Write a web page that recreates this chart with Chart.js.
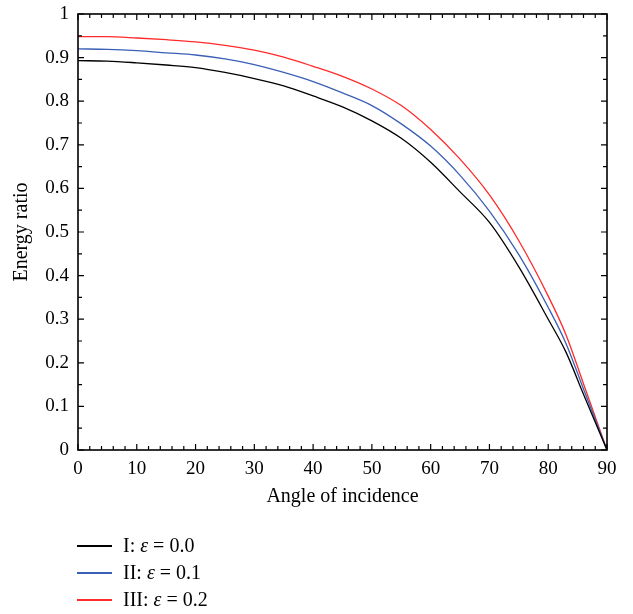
<!DOCTYPE html>
<html>
<head>
<meta charset="utf-8">
<script src="https://cdn.jsdelivr.net/npm/chart.js@4.4.1/dist/chart.umd.min.js"></script>
<style>
body { margin: 0; background: #fff; }
#wrap { position: relative; width: 633px; height: 614px; }
#legend { position: absolute; left: 77px; top: 532px; font-family: "Liberation Serif", serif; font-size: 20px; color: #000; }
.row { height: 27px; display: flex; align-items: center; }
.sw { display: inline-block; width: 35px; height: 2px; margin-right: 11px; }
</style>
</head>
<body>
<div id="wrap">
  <canvas id="myChart" width="633" height="614"></canvas>
  <div id="legend"></div>
</div>
<script>
// angles of incidence (deg)
const angles = [0, 5, 10, 15, 20, 25, 30, 35, 40, 45, 50, 55, 60, 65, 70, 75, 80, 83, 86, 90];

// energy ratio
const ratioI   = [0.893, 0.892, 0.888, 0.883, 0.877, 0.866, 0.852, 0.835, 0.812, 0.787, 0.755, 0.715, 0.660, 0.592, 0.522, 0.420, 0.300, 0.225, 0.128, 0];
const ratioII  = [0.920, 0.919, 0.916, 0.911, 0.906, 0.897, 0.884, 0.866, 0.845, 0.819, 0.790, 0.748, 0.697, 0.630, 0.548, 0.448, 0.327, 0.245, 0.140, 0];
const ratioIII = [0.948, 0.948, 0.945, 0.941, 0.936, 0.928, 0.917, 0.901, 0.880, 0.857, 0.828, 0.790, 0.735, 0.667, 0.585, 0.480, 0.353, 0.265, 0.152, 0];

const seriesNames = ['I: <i>ε</i> = 0.0', 'II: <i>ε</i> = 0.1', 'III: <i>ε</i> = 0.2'];
const seriesColors = ['#000000', '#3a5fb4', '#ff2a2a'];

const toPoints = vals => vals.map((v, i) => ({x: angles[i], y: v}));

// box round the plot plus inward ticks on all four sides
const frameTicks = {
  id: 'frameTicks',
  afterDraw(chart) {
    const {ctx, chartArea: a, scales: {x, y}} = chart;
    ctx.save();
    ctx.strokeStyle = '#000';
    ctx.lineWidth = 1.2;
    ctx.beginPath();
    for (let v = 0; v <= 90; v += 2) {
      const px = x.getPixelForValue(v);
      const len = v % 10 === 0 ? 6 : 4;
      ctx.moveTo(px, a.bottom); ctx.lineTo(px, a.bottom - len);
      ctx.moveTo(px, a.top); ctx.lineTo(px, a.top + len);
    }
    for (let i = 0; i <= 20; i++) {
      const py = y.getPixelForValue(i * 0.05);
      const len = i % 2 === 0 ? 6 : 4;
      ctx.moveTo(a.left, py); ctx.lineTo(a.left + len, py);
      ctx.moveTo(a.right, py); ctx.lineTo(a.right - len, py);
    }
    ctx.stroke();
    ctx.lineWidth = 1.6;
    ctx.strokeRect(a.left, a.top, a.right - a.left, a.bottom - a.top);
    ctx.restore();
  }
};

const serif = "'Liberation Serif', serif";

new Chart(document.getElementById('myChart'), {
  type: 'line',
  data: {
    datasets: [ratioI, ratioII, ratioIII].map((vals, i) => ({
      label: seriesNames[i],
      data: toPoints(vals),
      borderColor: seriesColors[i],
      borderWidth: 1.3,
      pointRadius: 0,
      cubicInterpolationMode: 'monotone',
      fill: false
    }))
  },
  options: {
    responsive: false,
    animation: false,
    layout: { padding: { left: 0, right: 26, top: 14, bottom: 100 } },
    plugins: { legend: { display: false }, tooltip: { enabled: false } },
    scales: {
      x: {
        type: 'linear', min: 0, max: 90,
        grid: { display: false },
        border: { display: false },
        ticks: { stepSize: 10, padding: 0, color: '#000', font: { family: serif, size: 19 } },
        title: { display: true, text: 'Angle of incidence', color: '#000', font: { family: serif, size: 20 }, padding: { bottom: 5 } },
        afterFit(scale) { scale.height = 64; }
      },
      y: {
        min: 0, max: 1,
        grid: { display: false },
        border: { display: false },
        ticks: {
          stepSize: 0.1, padding: 1, color: '#000', font: { family: serif, size: 19 },
          callback: v => String(Math.round(v * 10) / 10)
        },
        title: { display: true, text: 'Energy ratio', color: '#000', font: { family: serif, size: 20 }, padding: { top: 10 } },
        afterFit(scale) { scale.width = 78; }
      }
    }
  },
  plugins: [frameTicks]
});

// legend under the chart, one row per series
const legendEl = document.getElementById('legend');
seriesNames.forEach((name, i) => {
  const row = document.createElement('div');
  row.className = 'row';
  row.innerHTML = '<span class="sw" style="background-color:' + seriesColors[i] + '"></span><span>' + name + '</span>';
  legendEl.appendChild(row);
});
</script>
</body>
</html>
